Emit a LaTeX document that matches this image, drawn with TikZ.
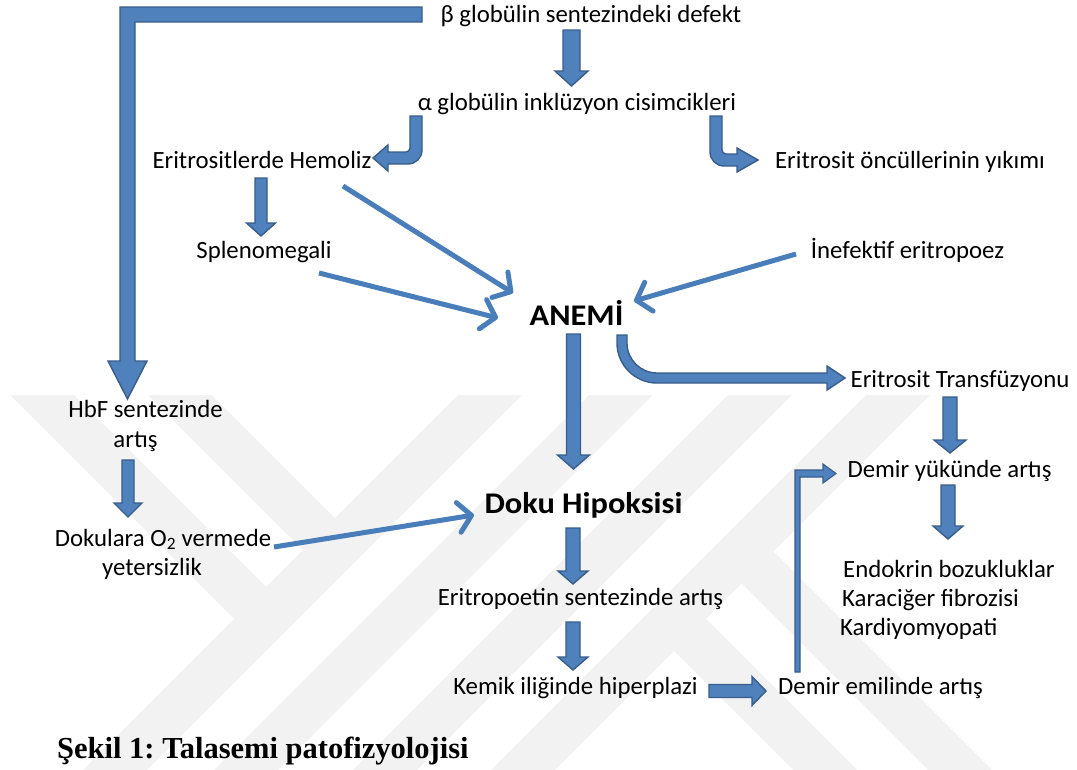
\documentclass[tikz,border=0pt]{standalone}
\usepackage{fontspec}
\usepackage{graphicx}
\setmainfont{Carlito}
\newfontfamily\capfont{Liberation Serif}
\usetikzlibrary{arrows.meta,calc}
\definecolor{ablue}{HTML}{4F81BD}
\definecolor{aborder}{HTML}{385D8A}
\definecolor{lblue}{HTML}{4A7EBB}
\definecolor{wmgray}{HTML}{F2F2F2}
\frenchspacing
% down block arrow: start coord, tip coord, shaft half width, head half width, head length
\newcommand{\dnblk}[5]{\filldraw[blk] let \p1=(#1), \p2=(#2) in
  (\x1-#3pt,\y1) -- (\x1+#3pt,\y1) -- (\x1+#3pt,\y2+#5pt) -- (\x1+#4pt,\y2+#5pt) -- (\x1,\y2)
  -- (\x1-#4pt,\y2+#5pt) -- (\x1-#3pt,\y2+#5pt) -- cycle;}
% right block arrow
\newcommand{\rtblk}[5]{\filldraw[blk] let \p1=(#1), \p2=(#2) in
  (\x1,\y1+#3pt) -- (\x2-#5pt,\y1+#3pt) -- (\x2-#5pt,\y1+#4pt) -- (\x2,\y1)
  -- (\x2-#5pt,\y1-#4pt) -- (\x2-#5pt,\y1-#3pt) -- (\x1,\y1-#3pt) -- cycle;}
\begin{document}
\begin{tikzpicture}[x=1pt,y=-1pt,
  blk/.style={fill=ablue,draw=aborder,line width=1.4pt,line join=miter},
  lnarrow/.style={draw=lblue,line width=5pt,-{Straight Barb[length=13pt,width=30pt,round]}},
  wm/.style={draw=wmgray,line width=45pt,line cap=butt,line join=miter},
  txt/.style={font=\fontsize{24.8}{30}\selectfont,inner sep=0pt,anchor=base,text=black},
  btxt/.style={font=\fontsize{30}{36}\selectfont\bfseries,inner sep=0pt,anchor=base,text=black}]
\useasboundingbox (0,0) rectangle (1077,769);
\fill[white] (0,0) rectangle (1077,769);

% watermark
\begin{scope}
\clip (0,395) rectangle (1077,769);
\draw[wm] (40,845) -- (560,325);
\draw[wm] (180,836) -- (700,316);
\draw[wm] (310,845) -- (840,315);
\draw[wm] (450,843) -- (980,313);
\draw[wm] (12,365) -- (266,619);
\draw[wm] (150,365) -- (335,550);
\draw[wm] (674,619) -- (900,845);
\draw[wm] (741,551) -- (1010,820);
\end{scope}

% texts
\node[txt] (beta) at (591,22) {β globülin sentezindeki defekt};
\node[txt] (alpha) at (577,110) {α globülin inklüzyon cisimcikleri};
\node[txt] (hem) at (262,168) {Eritrositlerde Hemoliz};
\node[txt] (oncul) at (910,168) {Eritrosit öncüllerinin yıkımı};
\node[txt] (splen) at (264,258) {Splenomegali};
\node[txt] (inef) at (907.5,258) {İnefektif eritropoez};
\node[btxt] (anemi) at (576.5,325) {\scalebox{1.08}[1]{ANEMİ}};
\node[txt] (trans) at (960,387) {Eritrosit Transfüzyonu};
\node[txt] (hbf) at (145.5,417) {HbF sentezinde};
\node[txt] (hbfb) at (135.5,447) {artış};
\node[txt] (dokO) at (163,546) {Dokulara O\textsubscript{2} vermede};
\node[txt] (dokOb) at (152,575) {yetersizlik};
\node[btxt] (doku) at (583.5,513) {\scalebox{1.08}[1]{Doku Hipoksisi}};
\node[txt] (dyuk) at (949.5,477) {Demir yükünde artış};
\node[txt,anchor=base west] (endo) at (843,577) {Endokrin bozukluklar};
\node[txt,anchor=base west] (kara) at (842,606) {Karaciğer fibrozisi};
\node[txt,anchor=base west] (kard) at (840,635) {Kardiyomyopati};
\node[txt] (epo) at (580.5,605) {Eritropoetin sentezinde artış};
\node[txt] (kemik) at (575.5,694) {Kemik iliğinde hiperplazi};
\node[txt] (demem) at (880.5,694) {Demir emilinde artış};
\node[font=\capfont\fontsize{30.5}{36}\selectfont\bfseries,inner sep=0pt,anchor=base west] (cap) at (57,758) {Şekil 1: Talasemi patofizyolojisi};

% big L arrow beta -> HbF
\filldraw[blk] (422,7) -- (120,7) -- (120,361) -- (108,361) -- (127.5,399) -- (147,361) -- (135,361) -- (135,22) -- (422,22) -- cycle;

% straight block arrows
\coordinate (a1) at (571.5,30);  \coordinate (a1t) at (571.5,86);
\dnblk{a1}{a1t}{8.5}{16.5}{15}
\coordinate (a2) at (261,178);  \coordinate (a2t) at (261,236);
\dnblk{a2}{a2t}{6}{14.5}{13}
\coordinate (a3) at (573.5,334); \coordinate (a3t) at (573.5,469);
\dnblk{a3}{a3t}{7}{16}{14}
\coordinate (a4) at (950,397); \coordinate (a4t) at (950,453);
\dnblk{a4}{a4t}{7}{16}{13}
\coordinate (a5) at (948,485); \coordinate (a5t) at (948,539);
\dnblk{a5}{a5t}{7}{15}{13}
\coordinate (a6) at (128,460); \coordinate (a6t) at (128,517);
\dnblk{a6}{a6t}{6}{14}{14}
\coordinate (a7) at (573,528); \coordinate (a7t) at (573,584);
\dnblk{a7}{a7t}{7}{15}{13}
\coordinate (a8) at (573,622); \coordinate (a8t) at (573,670);
\dnblk{a8}{a8t}{7}{15}{13}
\coordinate (a9) at (709,691); \coordinate (a9t) at (766,691);
\rtblk{a9}{a9t}{6.5}{14.5}{14}

% curved arrow alpha -> Hemoliz
\filldraw[blk] (410,116) -- (422,116) -- (422,150) arc[start angle=0,end angle=90,radius=14]
  -- (388,164) -- (388,171) -- (373,158) -- (388,145) -- (388,152) -- (406,152)
  arc[start angle=90,end angle=0,radius=4] -- cycle;
% curved arrow alpha -> oncul
\filldraw[blk] (722,116) -- (710,116) -- (710,152) arc[start angle=180,end angle=90,radius=14]
  -- (737,166) -- (737,172) -- (758,160) -- (737,148) -- (737,154) -- (726,154)
  arc[start angle=90,end angle=180,radius=4] -- cycle;
% curved arrow ANEMI -> Transfuzyon
\filldraw[blk] (617,335) -- (617,343) arc[start angle=180,end angle=90,radius=40]
  -- (827,383) -- (827,390) -- (845,378) -- (827,366) -- (827,373) -- (657,373)
  arc[start angle=90,end angle=180,radius=30] -- (627,335) -- cycle;
% elbow arrow Demir emilinde -> Demir yukunde
\filldraw[blk,line width=1.1pt] (795,672) -- (795,470) -- (823,470) -- (823,464) -- (836,473.5)
  -- (823,483) -- (823,477) -- (800,477) -- (800,672) -- cycle;

% thin line arrows
\coordinate (t1s) at (343,186); \coordinate (t1e) at (513,293);
\coordinate (t2s) at (319,273); \coordinate (t2e) at (498,318);
\coordinate (t3s) at (796,254); \coordinate (t3e) at (634,301);
\coordinate (t4s) at (274,547); \coordinate (t4e) at (474,515);
\draw[lnarrow] (t1s) -- (t1e);
\draw[lnarrow] (t2s) -- (t2e);
\draw[lnarrow] (t3s) -- (t3e);
\draw[lnarrow] (t4s) -- (t4e);
\end{tikzpicture}
\end{document}
